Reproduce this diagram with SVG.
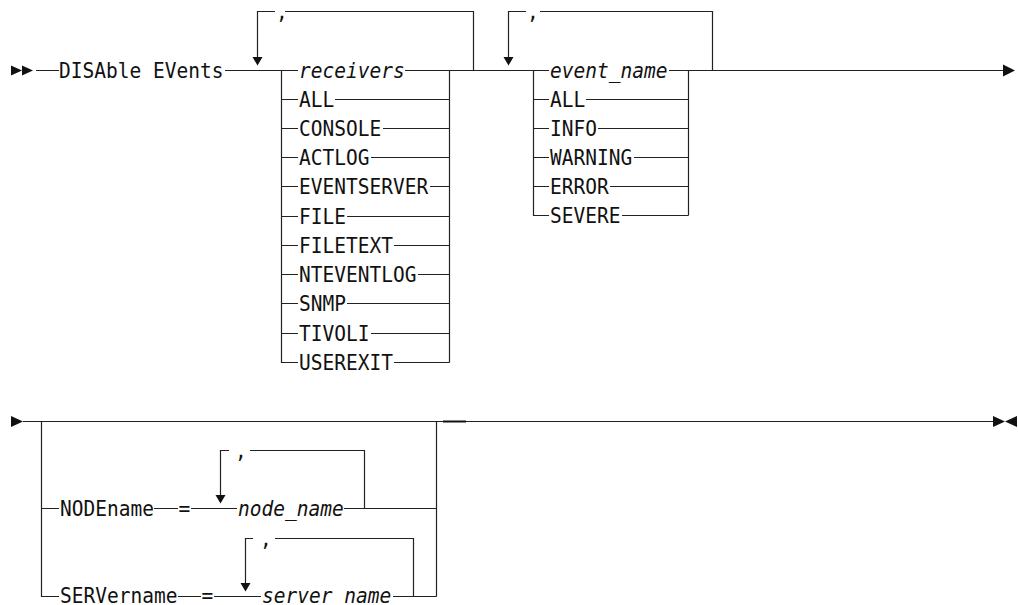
<svg xmlns="http://www.w3.org/2000/svg" width="1018" height="605" viewBox="0 0 1018 605">
<style>
.t{font-family:"DejaVu Sans Mono","Liberation Mono",monospace;font-size:21px;fill:#111}
.i{font-style:italic}
.l{fill:none;stroke:#222;stroke-width:1.2}
.h{fill:#111}
</style>
<rect width="1018" height="605" fill="#fff"/>
<g id="connectors">
<path class="l" d="M36 70.5H59M225 70.5H298M405 70.5H549M669 70.5H1003"/>
<path class="l" d="M257.5 58V11.5H275M285 11.5H473.5V70.5"/>
<path class="l" d="M281.5 70.5V362.5H298M449.5 70.5V362.5"/>
<path class="l" d="M281.5 99.5H298M335 99.5H449.5M281.5 128.5H298M383 128.5H449.5M281.5 157.5H298M371 157.5H449.5M281.5 186.5H298M430 186.5H449.5M281.5 216.5H298M347 216.5H449.5M281.5 245.5H298M394 245.5H449.5M281.5 274.5H298M418 274.5H449.5M281.5 303.5H298M347 303.5H449.5M281.5 333.5H298M371 333.5H449.5M394 362.5H449.5"/>
<path class="l" d="M508.5 58V11.5H526M540 11.5H712.5V70.5"/>
<path class="l" d="M533.5 70.5V215.5H549M688.5 70.5V215.5"/>
<path class="l" d="M533.5 99.5H549M586 99.5H688.5M533.5 128.5H549M598 128.5H688.5M533.5 157.5H549M634 157.5H688.5M533.5 186.5H549M610 186.5H688.5M622 215.5H688.5"/>
<path class="l" d="M23 421.5H993"/>
<rect x="443" y="420.5" width="23" height="2" fill="#111"/>
<path class="l" d="M41.5 421.5V596.5H59M436.5 421.5V596.5"/>
<path class="l" d="M41.5 508.5H59M154 508.5H178M191 508.5H237M344 508.5H436.5"/>
<path class="l" d="M220.5 496V450.5H229M250 450.5H364.5V508.5"/>
<path class="l" d="M178 596.5H201M214 596.5H261M393 596.5H436.5"/>
<path class="l" d="M245.5 584V538.5H253M275 538.5H413.5V596.5"/>
<path class="h" d="M252.5 57H262.5L257.5 65.5Z"/>
<path class="h" d="M503.5 57H513.5L508.5 65.5Z"/>
<path class="h" d="M215.5 495H225.5L220.5 503.5Z"/>
<path class="h" d="M240.5 583H250.5L245.5 591.5Z"/>
<path class="h" d="M11 65.5L22 70.5L11 75.5ZM22 65.5L33 70.5L22 75.5Z"/>
<path class="h" d="M1003 64.5L1015 70.5L1003 76.5Z"/>
<path class="h" d="M11 416L23 421.5L11 427Z"/>
<path class="h" d="M993 416L1005 421.5L993 427ZM1017 416L1005 421.5L1017 427Z"/>
</g>
<g id="start"><text class="t" transform="translate(59 78) scale(0.93 1)">DISAble EVents</text></g>
<g id="receivers">
<text class="t" transform="translate(276 19) scale(0.93 1)">,</text>
<text class="t i" transform="translate(299 78) scale(0.93 1)">receivers</text>
<text class="t" transform="translate(299 107) scale(0.93 1)">ALL</text>
<text class="t" transform="translate(299 136) scale(0.93 1)">CONSOLE</text>
<text class="t" transform="translate(299 165) scale(0.93 1)">ACTLOG</text>
<text class="t" transform="translate(299 194) scale(0.93 1)">EVENTSERVER</text>
<text class="t" transform="translate(299 224) scale(0.93 1)">FILE</text>
<text class="t" transform="translate(299 253) scale(0.93 1)">FILETEXT</text>
<text class="t" transform="translate(299 282) scale(0.93 1)">NTEVENTLOG</text>
<text class="t" transform="translate(299 311) scale(0.93 1)">SNMP</text>
<text class="t" transform="translate(299 341) scale(0.93 1)">TIVOLI</text>
<text class="t" transform="translate(299 370) scale(0.93 1)">USEREXIT</text>
</g>
<g id="events">
<text class="t" transform="translate(527 19) scale(0.93 1)">,</text>
<text class="t i" transform="translate(550 78) scale(0.93 1)">event_name</text>
<text class="t" transform="translate(550 107) scale(0.93 1)">ALL</text>
<text class="t" transform="translate(550 136) scale(0.93 1)">INFO</text>
<text class="t" transform="translate(550 165) scale(0.93 1)">WARNING</text>
<text class="t" transform="translate(550 194) scale(0.93 1)">ERROR</text>
<text class="t" transform="translate(550 223) scale(0.93 1)">SEVERE</text>
</g>
<g id="nodename">
<text class="t" transform="translate(60 516) scale(0.93 1)">NODEname</text>
<text class="t" transform="translate(178.5 516) scale(0.93 1)">=</text>
<text class="t" transform="translate(235 458) scale(0.93 1)">,</text>
<text class="t i" transform="translate(238 516) scale(0.93 1)">node_name</text>
</g>
<g id="servername">
<text class="t" transform="translate(60 603) scale(0.93 1)">SERVername</text>
<text class="t" transform="translate(201.5 603) scale(0.93 1)">=</text>
<text class="t" transform="translate(260 546) scale(0.93 1)">,</text>
<text class="t i" transform="translate(262 603) scale(0.93 1)">server name</text>
</g>
</svg>
